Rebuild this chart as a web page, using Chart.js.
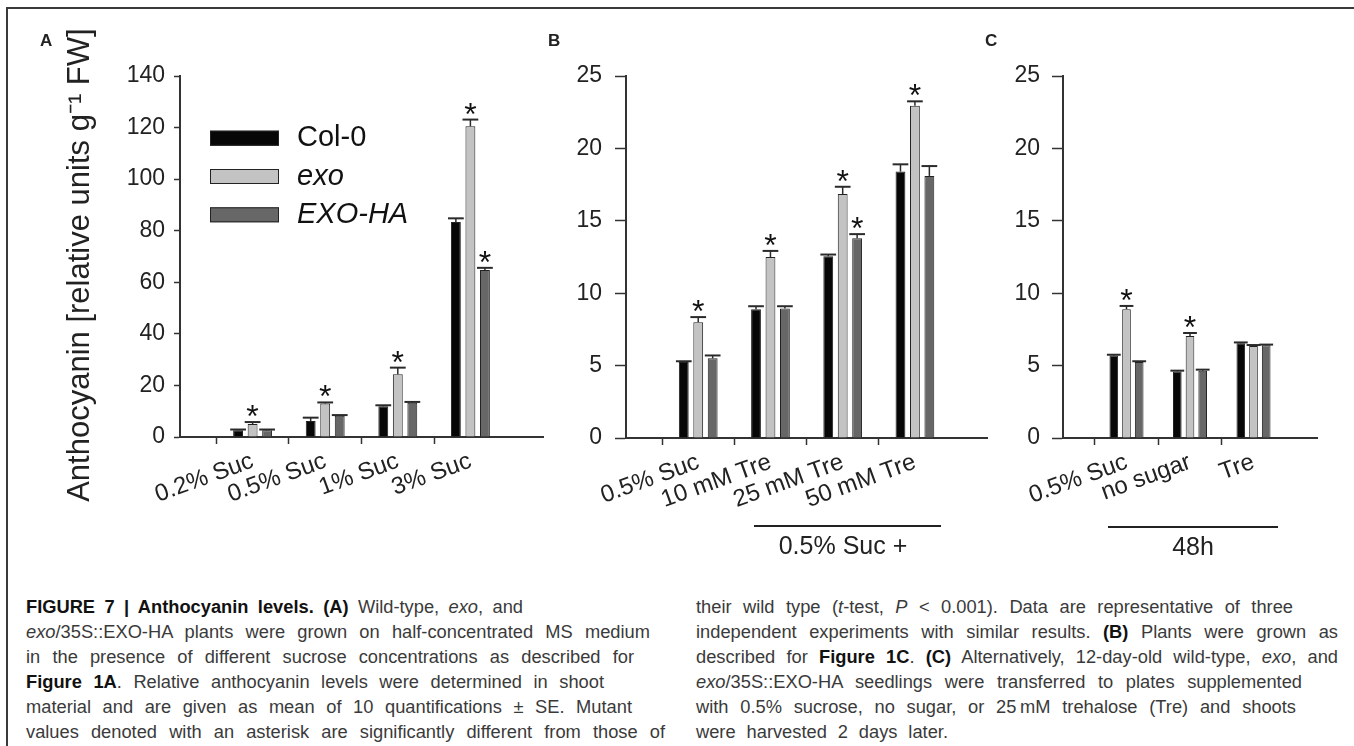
<!DOCTYPE html>
<html><head><meta charset="utf-8">
<script src="https://cdn.jsdelivr.net/npm/chart.js@4.4.1/dist/chart.umd.min.js"></script>
<style>
html,body{margin:0;padding:0;background:#fff;}
body{width:1354px;height:746px;position:relative;overflow:hidden;font-family:"Liberation Sans",Arial,sans-serif;color:#222;}
canvas{position:absolute;top:0;}
.frameTop{position:absolute;left:6px;top:7px;width:1348px;height:2px;background:#3a3a3a;}
.frameLeft{position:absolute;left:6px;top:7px;width:2px;height:739px;background:#3a3a3a;}
.plabel{position:absolute;top:32px;font-weight:bold;font-size:17px;line-height:17px;color:#222;}
.bracket{position:absolute;height:2px;background:#222;}
.btext{position:absolute;font-size:25px;line-height:25px;white-space:nowrap;transform:translate(-50%,-50%);color:#222;}
.cap{position:absolute;top:594px;font-family:"Liberation Sans",Arial,sans-serif;font-size:18.3px;line-height:25px;color:#3a3a3a;}
.cap div{text-align:justify;text-align-last:justify;height:25px;overflow:visible;}
.cap b{color:#111;}
</style></head>
<body>
<div class="frameTop"></div><div class="frameLeft"></div>
<canvas id="cA" width="560" height="560" style="left:0px"></canvas>
<canvas id="cB" width="440" height="560" style="left:560px"></canvas>
<canvas id="cC" width="354" height="560" style="left:1000px"></canvas>
<div class="plabel" style="left:40px">A</div>
<div class="plabel" style="left:548px">B</div>
<div class="plabel" style="left:985px">C</div>
<div class="bracket" style="left:754px;top:525px;width:187px"></div>
<div class="btext" style="left:843px;top:545px">0.5% Suc +</div>
<div class="bracket" style="left:1108px;top:526px;width:170px"></div>
<div class="btext" style="left:1193px;top:546px">48h</div>
<div class="cap" style="left:26px">
<div style="width:497px"><b>FIGURE 7 | Anthocyanin levels. (A)</b> Wild-type, <i>exo</i>, and</div>
<div style="width:624px"><i>exo</i>/35S::EXO-HA plants were grown on half-concentrated MS medium</div>
<div style="width:608px">in the presence of different sucrose concentrations as described for</div>
<div style="width:578px"><b>Figure 1A</b>. Relative anthocyanin levels were determined in shoot</div>
<div style="width:606px">material and are given as mean of 10 quantifications ± SE. Mutant</div>
<div style="width:639px">values denoted with an asterisk are significantly different from those of</div>
</div>
<div class="cap" style="left:696px">
<div style="width:597px">their wild type (<i>t</i>-test, <i>P</i> &lt; 0.001). Data are representative of three</div>
<div style="width:642px">independent experiments with similar results. <b>(B)</b> Plants were grown as</div>
<div style="width:642px">described for <b>Figure 1C</b>. <b>(C)</b> Alternatively, 12-day-old wild-type, <i>exo</i>, and</div>
<div style="width:606px"><i>exo</i>/35S::EXO-HA seedlings were transferred to plates supplemented</div>
<div style="width:600px">with 0.5% sucrose, no sugar, or 25&#8201;mM trehalose (Tre) and shoots</div>
<div style="width:252px">were harvested 2 days later.</div>
</div>
<script>
// ---------- data ----------
const seriesNames = ['Col-0', 'exo', 'EXO-HA'];

const catsA = ['0.2% Suc', '0.5% Suc', '1% Suc', '3% Suc'];
const col0A = [2.6, 6.2, 11.9, 83.4];
const exoA = [5.0, 13.0, 24.3, 120.5];
const exohaA = [2.6, 8.2, 13.3, 64.8];
const col0A_err = [0.3, 1.3, 0.4, 1.4];
const exoA_err = [0.8, 0.4, 2.6, 2.6];
const exohaA_err = [0.3, 0.3, 0.3, 0.8];
const col0A_sig = [0, 0, 0, 0];
const exoA_sig = [1, 1, 1, 1];
const exohaA_sig = [0, 0, 0, 1];
const ticksA = [0, 20, 40, 60, 80, 100, 120, 140];

const catsB = ['0.5% Suc', '10 mM Tre', '25 mM Tre', '50 mM Tre'];
const col0B = [5.25, 8.9, 12.55, 18.4];
const exoB = [8.0, 12.5, 16.85, 22.95];
const exohaB = [5.5, 8.95, 13.8, 18.1];
const col0B_err = [0.05, 0.2, 0.12, 0.5];
const exoB_err = [0.35, 0.42, 0.5, 0.3];
const exohaB_err = [0.2, 0.15, 0.28, 0.68];
const col0B_sig = [0, 0, 0, 0];
const exoB_sig = [1, 1, 1, 1];
const exohaB_sig = [0, 0, 1, 0];
const ticksB = [0, 5, 10, 15, 20, 25];

const catsC = ['0.5% Suc', 'no sugar', 'Tre'];
const col0C = [5.7, 4.6, 6.55];
const exoC = [8.9, 7.05, 6.35];
const exohaC = [5.25, 4.65, 6.4];
const col0C_err = [0.05, 0.05, 0.05];
const exoC_err = [0.22, 0.2, 0.07];
const exohaC_err = [0.05, 0.07, 0.05];
const col0C_sig = [0, 0, 0];
const exoC_sig = [1, 1, 0];
const exohaC_sig = [0, 0, 0];
const ticksC = [0, 5, 10, 15, 20, 25];

// ---------- styles ----------
const FONT = '"Liberation Sans", Arial, sans-serif';
Chart.defaults.font.family = FONT;
Chart.defaults.color = '#222';
const fills = ['#070707', '#c3c3c3', '#676767'];
const italics = [false, true, true];

const pad = arr => [null, ...arr, null];

const errorBarPlugin = {
  id: 'errbars',
  afterDatasetsDraw(chart) {
    const ctx = chart.ctx, ys = chart.scales.y;
    chart.data.datasets.forEach((ds, i) => {
      const meta = chart.getDatasetMeta(i);
      meta.data.forEach((el, j) => {
        const v = ds.data[j];
        if (v == null) return;
        const top = ys.getPixelForValue(v + ds.errors[j]);
        const half = el.width * 0.8;
        ctx.save();
        ctx.strokeStyle = '#2a2a2a';
        ctx.lineWidth = 1.5;
        ctx.beginPath(); ctx.moveTo(el.x, el.y); ctx.lineTo(el.x, top); ctx.stroke();
        ctx.lineWidth = 2;
        ctx.beginPath(); ctx.moveTo(el.x - half, top); ctx.lineTo(el.x + half, top); ctx.stroke();
        if (ds.sig[j]) {
          ctx.fillStyle = '#111';
          ctx.font = '32px ' + FONT;
          ctx.textAlign = 'center';
          ctx.textBaseline = 'alphabetic';
          ctx.fillText('*', el.x, top + 5);
        }
        ctx.restore();
      });
    });
  }
};

const boxLegend = {
  id: 'boxLegend',
  afterDraw(chart, args, o) {
    if (!o || !o.show) return;
    const ctx = chart.ctx;
    chart.data.datasets.forEach((ds, i) => {
      const cy = o.y0 + i * o.dy;
      ctx.save();
      ctx.fillStyle = ds.backgroundColor;
      ctx.fillRect(o.x, cy - o.h / 2, o.w, o.h);
      ctx.strokeStyle = '#222';
      ctx.lineWidth = 1;
      ctx.strokeRect(o.x + 0.5, cy - o.h / 2 + 0.5, o.w - 1, o.h - 1);
      ctx.fillStyle = '#111';
      ctx.font = (italics[i] ? 'italic ' : '') + '29px ' + FONT;
      ctx.textBaseline = 'middle';
      ctx.textAlign = 'left';
      ctx.fillText(ds.label, o.tx, cy);
      ctx.restore();
    });
  }
};

function makeChart(id, cats, vals, errs, sigs, tickVals, cfg) {
  const datasets = vals.map((v, i) => ({
    label: seriesNames[i],
    data: pad(v),
    errors: pad(errs[i]),
    sig: pad(sigs[i]),
    backgroundColor: fills[i],
    borderColor: '#222',
    borderWidth: 1,
    categoryPercentage: 0.6,
    barPercentage: 0.68
  }));
  const yScale = {
    min: tickVals[0], max: tickVals[tickVals.length - 1],
    afterBuildTicks: s => { s.ticks = tickVals.map(v => ({ value: v })); },
    ticks: { font: { size: 23 }, color: '#222', padding: cfg.yPad },
    grid: { drawOnChartArea: false, drawTicks: true, tickLength: cfg.yTick, tickColor: '#333', tickWidth: 1.5, color: '#333' },
    border: { display: true, color: '#333', width: 2 },
    afterFit: s => { s.width = cfg.yW; }
  };
  if (cfg.title) {
    yScale.title = { display: true, text: cfg.title, font: { size: 31 }, color: '#222', padding: { top: 62, bottom: 0 } };
  }
  return new Chart(document.getElementById(id), {
    type: 'bar',
    data: { labels: pad(cats).map(c => c == null ? '' : c), datasets },
    options: {
      responsive: false, animation: false,
      layout: { padding: { top: cfg.top, right: cfg.right, bottom: 0, left: 0 } },
      plugins: { legend: { display: false }, tooltip: { enabled: false }, boxLegend: cfg.legend || { show: false } },
      scales: {
        x: {
          type: 'category', offset: false,
          grid: { drawOnChartArea: false, drawTicks: true, tickLength: 7, tickWidth: 1.5,
                  tickColor: c => (c.tick && c.tick.label === '') ? 'rgba(0,0,0,0)' : '#333', color: '#333' },
          border: { display: true, color: '#333', width: 2 },
          ticks: { autoSkip: false, minRotation: 20, maxRotation: 20, font: { size: 24 }, color: '#222', padding: 3 },
          afterFit: s => { s.height = cfg.xH; }
        },
        y: yScale
      }
    },
    plugins: [errorBarPlugin, boxLegend]
  });
}

makeChart('cA', catsA, [col0A, exoA, exohaA], [col0A_err, exoA_err, exohaA_err], [col0A_sig, exoA_sig, exohaA_sig], ticksA,
  { yW: 180, xH: 123, top: 76, right: 17, yPad: 9, yTick: 6,
    title: 'Anthocyanin [relative units g\u207B\u00B9 FW]  ',
    legend: { show: true, x: 210, w: 69, h: 15, y0: 138.2, dy: 38.3, tx: 297 } });
makeChart('cB', catsB, [col0B, exoB, exohaB], [col0B_err, exoB_err, exohaB_err], [col0B_sig, exoB_sig, exohaB_sig], ticksB,
  { yW: 66, xH: 122, top: 76, right: 12, yPad: 13, yTick: 11 });
makeChart('cC', catsC, [col0C, exoC, exohaC], [col0C_err, exoC_err, exohaC_err], [col0C_sig, exoC_sig, exohaC_sig], ticksC,
  { yW: 63, xH: 122, top: 76, right: 37, yPad: 12, yTick: 11 });
</script>
</body></html>
